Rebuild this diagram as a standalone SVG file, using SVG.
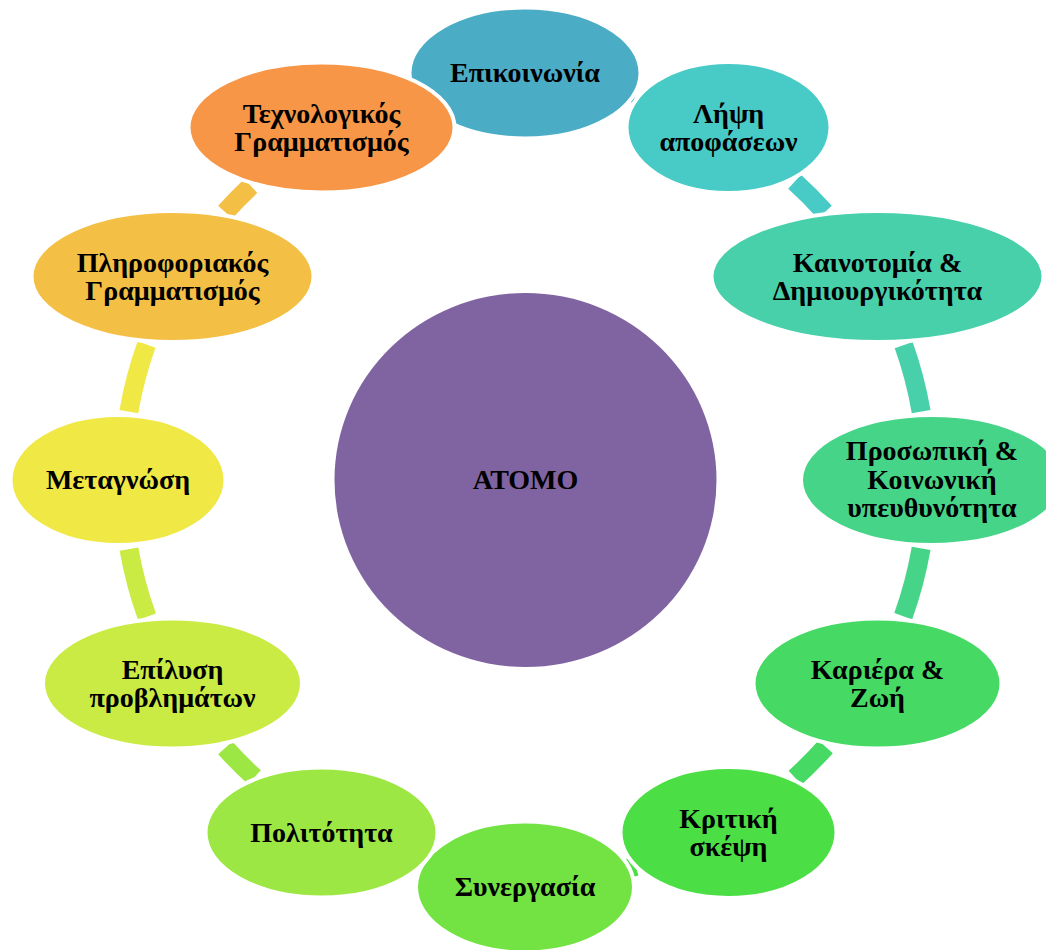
<svg xmlns="http://www.w3.org/2000/svg" width="1046" height="950" viewBox="0 0 1046 950">
<style>
.conn{fill:none;stroke-width:19;stroke-linecap:butt}
.node{stroke:#FFFFFF;stroke-width:4}
.lbl{font-family:"Liberation Serif","Times New Roman",serif;font-weight:bold;font-size:28px;fill:#000000;text-anchor:middle}
</style>
<rect width="1046" height="950" fill="#FFFFFF"/>
<g id="connectors">
<path class="conn" stroke="#4BACC6" d="M553.04,78.98 A402,402 0 0 1 635.81,93.57"/>
<path class="conn" stroke="#48CBC6" d="M794.58,181.79 A402,402 0 0 1 824.76,212.14"/>
<path class="conn" stroke="#47D0A9" d="M903.71,345.15 A402,402 0 0 1 921.13,411.58"/>
<path class="conn" stroke="#46D588" d="M921.13,548.42 A402,402 0 0 1 903.23,616.17"/>
<path class="conn" stroke="#46DA65" d="M825.69,746.82 A402,402 0 0 1 795.03,777.80"/>
<path class="conn" stroke="#4BDE45" d="M635.81,866.43 A402,402 0 0 1 553.04,881.02"/>
<path class="conn" stroke="#9DE744" d="M254.45,777.33 A402,402 0 0 1 225.24,747.86"/>
<path class="conn" stroke="#C9EB44" d="M147.00,616.83 A402,402 0 0 1 128.99,549.12"/>
<path class="conn" stroke="#F0E845" d="M128.87,411.58 A402,402 0 0 1 146.53,344.49"/>
<path class="conn" stroke="#F4BF45" d="M225.24,212.14 A402,402 0 0 1 250.84,186.00"/>
</g>
<g id="atomo">
<ellipse cx="525.5" cy="480" rx="191" ry="187" fill="#8064A2"/>
<text class="lbl" x="525.5" y="489.3">ΑΤΟΜΟ</text>
</g>
<g id="n0">
<ellipse class="node" cx="525" cy="73" rx="115.5" ry="65.5" fill="#4BACC6"/>
<text class="lbl" x="525" y="82.3">Επικοινωνία</text>
</g>
<g id="n1">
<ellipse class="node" cx="728.5" cy="127.5" rx="102" ry="65.5" fill="#48CBC6"/>
<text class="lbl" x="728.5" y="122.5">Λήψη</text>
<text class="lbl" x="728.5" y="150.8">αποφάσεων</text>
</g>
<g id="n2">
<ellipse class="node" cx="877.5" cy="276.5" rx="166" ry="65.5" fill="#47D0A9"/>
<text class="lbl" x="877.5" y="271.5">Καινοτομία &amp;</text>
<text class="lbl" x="877.5" y="299.8">Δημιουργικότητα</text>
</g>
<g id="n3">
<ellipse class="node" cx="932" cy="480" rx="131" ry="65" fill="#46D588"/>
<text class="lbl" x="932" y="460">Προσωπική &amp;</text>
<text class="lbl" x="932" y="488.5">Κοινωνική</text>
<text class="lbl" x="932" y="517">υπευθυνότητα</text>
</g>
<g id="n4">
<ellipse class="node" cx="877.5" cy="683.5" rx="124" ry="65" fill="#46DA65"/>
<text class="lbl" x="877.5" y="678.5">Καριέρα &amp;</text>
<text class="lbl" x="877.5" y="706.8">Ζωή</text>
</g>
<g id="n5">
<ellipse class="node" cx="728.5" cy="832.5" rx="108" ry="65.5" fill="#4BDE45"/>
<text class="lbl" x="728.5" y="827.5">Κριτική</text>
<text class="lbl" x="728.5" y="855.8">σκέψη</text>
</g>
<g id="n6">
<ellipse class="node" cx="525" cy="887" rx="109" ry="65.5" fill="#73E344"/>
<text class="lbl" x="525" y="896.3">Συνεργασία</text>
</g>
<g id="n7">
<ellipse class="node" cx="321.5" cy="832.5" rx="116" ry="65" fill="#9DE744"/>
<text class="lbl" x="321.5" y="841.8">Πολιτότητα</text>
</g>
<g id="n8">
<ellipse class="node" cx="172.5" cy="683.5" rx="129.5" ry="65" fill="#C9EB44"/>
<text class="lbl" x="172.5" y="678.5">Επίλυση</text>
<text class="lbl" x="172.5" y="706.8">προβλημάτων</text>
</g>
<g id="n9">
<ellipse class="node" cx="118" cy="480" rx="107.5" ry="65" fill="#F0E845"/>
<text class="lbl" x="118" y="489.3">Μεταγνώση</text>
</g>
<g id="n10">
<ellipse class="node" cx="172.5" cy="276.5" rx="141" ry="65.5" fill="#F4BF45"/>
<text class="lbl" x="172.5" y="271.5">Πληροφοριακός</text>
<text class="lbl" x="172.5" y="299.8">Γραμματισμός</text>
</g>
<g id="n11">
<ellipse class="node" cx="321.5" cy="127.5" rx="133" ry="65" fill="#F79646"/>
<text class="lbl" x="321.5" y="122.5">Τεχνολογικός</text>
<text class="lbl" x="321.5" y="150.8">Γραμματισμός</text>
</g>
</svg>
